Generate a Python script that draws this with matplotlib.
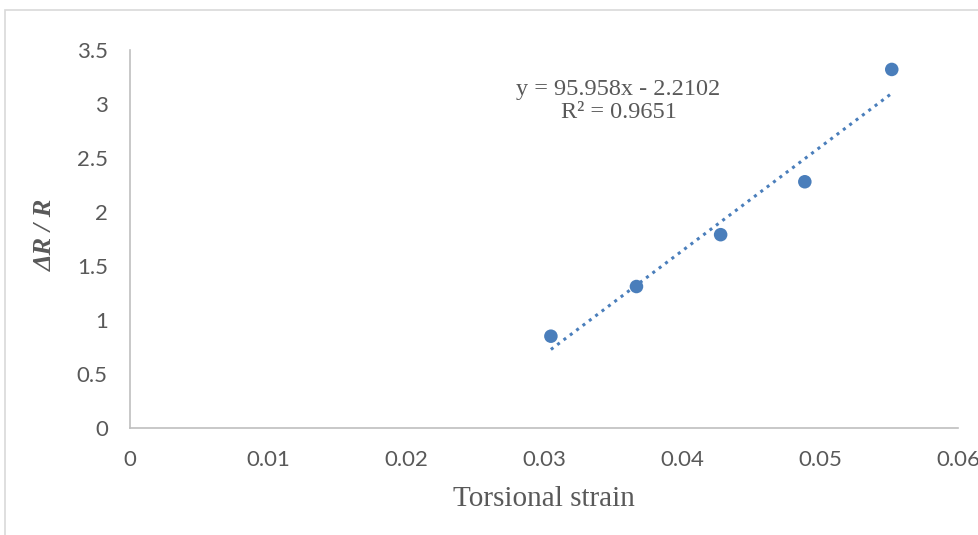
import matplotlib.pyplot as plt
import numpy as np
from matplotlib.patches import Rectangle

# data
strain = [0.0305, 0.0367, 0.0428, 0.0489, 0.0552]
dr_r = [0.85, 1.31, 1.79, 2.28, 3.32]
xticks = [0, 0.01, 0.02, 0.03, 0.04, 0.05, 0.06]
yticks = [0, 0.5, 1, 1.5, 2, 2.5, 3, 3.5]

blue = '#4a7ebb'
grey = '#595959'

fig = plt.figure(figsize=(9.79, 5.35), dpi=100)
# light outer chart frame
fig.patches.append(Rectangle((5 / 979, -0.05), 1.2, 1 - 10 / 535 + 0.05, transform=fig.transFigure,
                             fill=False, edgecolor='#d9d9d9', linewidth=1.2))

ax = fig.add_axes([130 / 979, 1 - 428 / 535, 828 / 979, 378 / 535])
ax.scatter(strain, dr_r, s=95, color=blue, zorder=3, edgecolors='none')

k, b = np.polyfit(strain, dr_r, 1)
xs = np.array([min(strain), max(strain)])
ax.plot(xs, k * xs + b, linestyle=(0, (1, 1.6)), color=blue, linewidth=2.2)

ax.set_xlim(0, 0.06)
ax.set_ylim(0, 3.5)
ax.set_xticks(xticks)
ax.set_xticklabels(['0', '0.01', '0.02', '0.03', '0.04', '0.05', '0.06'])
ax.set_yticks(yticks)
ax.set_yticklabels(['0', '0.5', '1', '1.5', '2', '2.5', '3', '3.5'])
ax.tick_params(length=0, labelsize=16, labelcolor=grey, pad=16)
for lab in ax.get_xticklabels() + ax.get_yticklabels():
    lab.set_family('Lato')
for s in ['top', 'right']:
    ax.spines[s].set_visible(False)
for s in ['left', 'bottom']:
    ax.spines[s].set_color('#bfbfbf')
    ax.spines[s].set_linewidth(1.2)

ax.set_xlabel('Torsional strain', family='Liberation Serif', fontsize=21, color=grey, labelpad=11)
ax.set_ylabel('ΔR / R', family='Liberation Serif', fontstyle='italic', fontweight='bold',
              fontsize=19, color=grey)
ax.yaxis.set_label_coords(-0.0885, 0.51)

ax.text(0.0354, 3.03, 'y = 95.958x - 2.2102\nR² = 0.9651', family='Liberation Serif',
        fontsize=17.5, color=grey, ha='center', va='center', linespacing=1.15)

plt.savefig('out.png', dpi=100)
